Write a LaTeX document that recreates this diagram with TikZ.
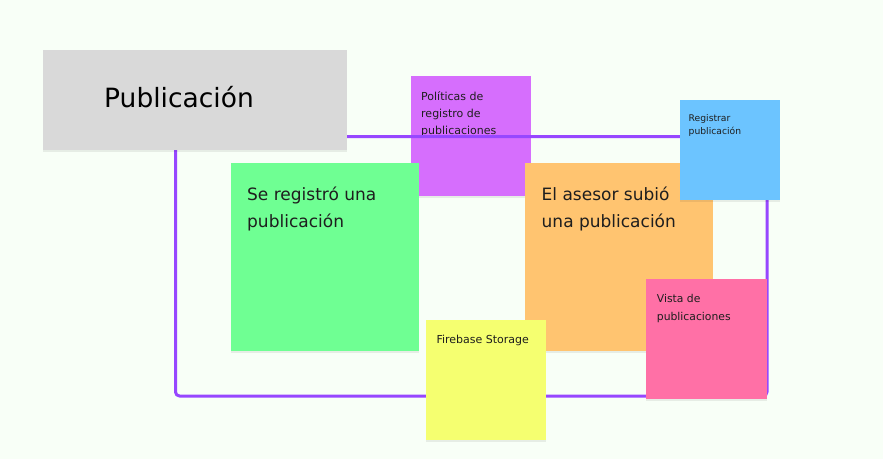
\documentclass[tikz,border=0pt]{standalone}
\usepackage{fontspec}
\setmainfont{DejaVu Sans}
\usetikzlibrary{shadows}
\definecolor{fondo}{RGB}{248,255,247}
\definecolor{gris}{RGB}{217,217,217}
\definecolor{morado}{RGB}{214,110,253}
\definecolor{verde}{RGB}{111,255,147}
\definecolor{naranja}{RGB}{255,196,112}
\definecolor{azul}{RGB}{108,196,255}
\definecolor{rosa}{RGB}{255,112,166}
\definecolor{amarillo}{RGB}{245,255,112}
\definecolor{marco}{RGB}{151,71,255}
\definecolor{tinta}{RGB}{30,30,30}
\newcommand\fs[2]{\fontsize{#1}{#2}\selectfont}
\begin{document}
\begin{tikzpicture}[x=1pt,y=-1pt,line join=round,line cap=round,
nota/.style={fill=#1,draw=none,inner sep=0,anchor=north west,
  drop shadow={shadow xshift=0pt,shadow yshift=-2pt,opacity=.07,fill=black}},
texto/.style={inner sep=0,anchor=base west,align=left,text=tinta}]
\fill[fondo] (0,0) rectangle (883,459);
\useasboundingbox (0,0) rectangle (883,459);
% notas de fondo (el texto va anclado en la ultima linea)
\node[nota=morado,minimum width=120,minimum height=120] (pol) at (411,76) {};
\node[texto,font=\fs{11}{17}] (polt) at (421,134.5) {Políticas de\\registro de\\publicaciones};
% marco del agregado
\draw[marco,line width=3,rounded corners=4] (175.5,136.5) rectangle (767,396);
\node[nota=gris,minimum width=304,minimum height=100,drop shadow={opacity=0}] (pub) at (43,50) {};
\node[texto,font=\fs{26.5}{30},text=black] (pubt) at (104,107.7) {Publicación};
\node[nota=verde,minimum width=188,minimum height=188] (reg) at (231,163) {};
\node[texto,font=\fs{17}{27}] (regt) at (247,227.3) {Se registró una\\publicación};
\node[nota=naranja,minimum width=188,minimum height=188] (ase) at (525,163) {};
\node[texto,font=\fs{17}{27}] (aset) at (541.5,227.3) {El asesor subió\\una publicación};
\node[nota=azul,minimum width=100,minimum height=100] (regi) at (680,100) {};
\node[texto,font=\fs{9.2}{13.5}] (regit) at (688.5,134.5) {Registrar\\publicación};
\node[nota=rosa,minimum width=121,minimum height=120] (vis) at (646,279) {};
\node[texto,font=\fs{10.8}{17.5}] (vist) at (656.7,320.2) {Vista de\\publicaciones};
\node[nota=amarillo,minimum width=120,minimum height=120] (fire) at (426,319.5) {};
\node[texto,font=\fs{11}{14}] (firet) at (436.3,343.3) {Firebase Storage};
\end{tikzpicture}
\end{document}
